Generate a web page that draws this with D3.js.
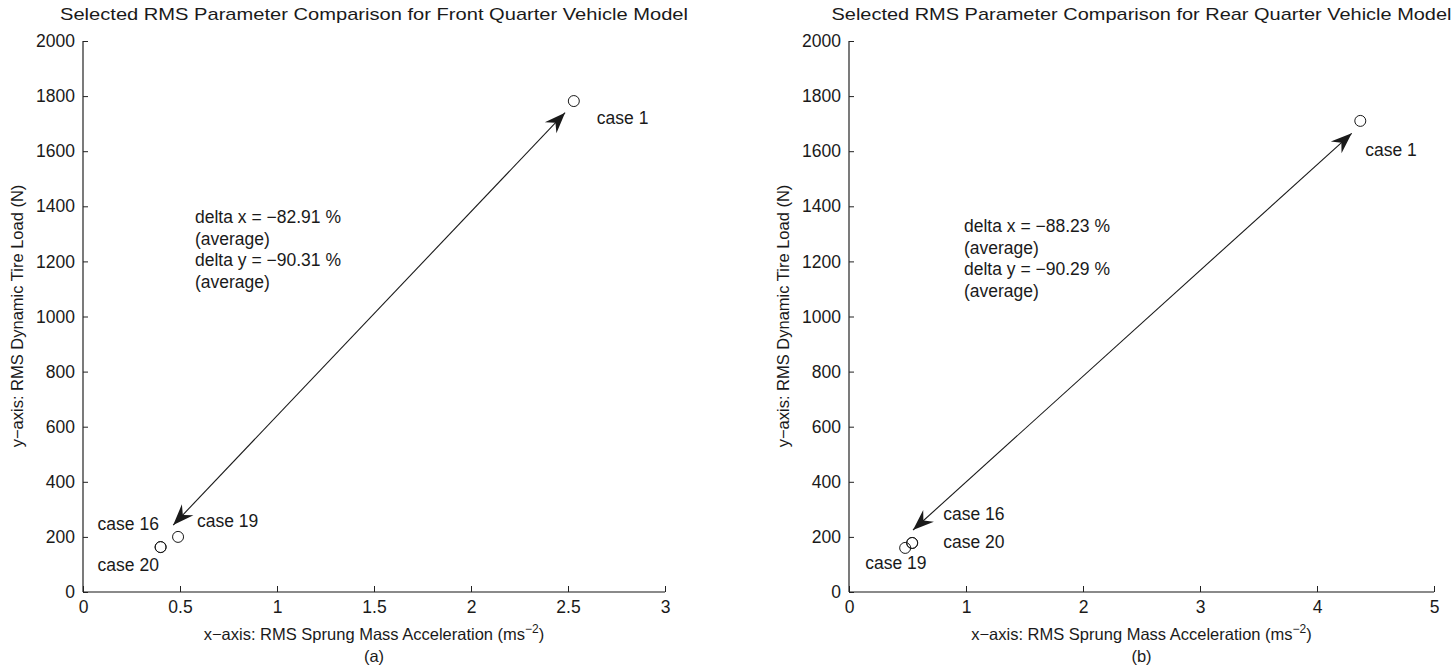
<!DOCTYPE html>
<html>
<head>
<meta charset="utf-8">
<script src="https://cdn.jsdelivr.net/npm/d3@7"></script>
<style>
  html, body { margin: 0; padding: 0; background: #fff; }
  svg { display: block; }
  text { font-family: "Liberation Sans", Arial, sans-serif; fill: #1a1a1a; }
</style>
</head>
<body>
<svg id="chart" width="1451" height="669"></svg>
<script>
// ---- data ----
const frontTitle = "Selected RMS Parameter Comparison for Front Quarter Vehicle Model";
const rearTitle = "Selected RMS Parameter Comparison for Rear Quarter Vehicle Model";

const frontCases = ["case 1", "case 19", "case 16", "case 20"];
const frontX = [2.53, 0.49, 0.40, 0.40];
const frontY = [1782, 200, 163, 163];

const rearCases = ["case 1", "case 16", "case 20", "case 19"];
const rearX = [4.37, 0.54, 0.54, 0.48];
const rearY = [1710, 178, 178, 160];

const frontXTicks = [0, 0.5, 1, 1.5, 2, 2.5, 3];
const rearXTicks = [0, 1, 2, 3, 4, 5];
const yTicks = [0, 200, 400, 600, 800, 1000, 1200, 1400, 1600, 1800, 2000];

// arrow end points (data units): [x1, y1, x2, y2]
const frontArrow = [2.485, 1740, 0.465, 243];
const rearArrow = [4.297, 1665, 0.547, 225];

const frontNote = ["delta x = \u221282.91 %", "(average)", "delta y = \u221290.31 %", "(average)"];
const rearNote = ["delta x = \u221288.23 %", "(average)", "delta y = \u221290.29 %", "(average)"];

// label placement offsets in pixels relative to the marker [dx, dy]
const frontLabelOffsets = [[23, 23], [19, -10], [-63, -17], [-63, 24]];
const rearLabelOffsets = [[5, 35], [31, -23], [31, 5], [-40, 21]];

const svg = d3.select("#chart");
const FS = 17.5;

function panel(opts) {
  const g = svg.append("g");
  const x = d3.scaleLinear().domain(opts.xDomain).range([opts.left, opts.right]);
  const y = d3.scaleLinear().domain([0, 2000]).range([592, 41]);

  // x axis (gray baseline, inward black ticks)
  const xa = g.append("g").attr("transform", "translate(0,592)")
    .call(d3.axisBottom(x).tickValues(opts.xTicks).tickSize(-6).tickPadding(9)
      .tickFormat(d => String(d)));
  xa.select(".domain").attr("stroke", "#8a8a8a").attr("stroke-width", 2).attr("d", `M${opts.left},0H${opts.right}`);
  xa.selectAll(".tick line").attr("stroke", "#222");
  xa.selectAll(".tick text").attr("font-size", FS).attr("dy", "0.71em").attr("fill", "#1a1a1a")
    .attr("font-family", "Liberation Sans, Arial, sans-serif");

  // y axis
  const ya = g.append("g").attr("transform", `translate(${opts.left},0)`)
    .call(d3.axisLeft(y).tickValues(yTicks).tickSize(-5).tickPadding(8).tickFormat(d => String(d)));
  ya.select(".domain").attr("stroke", "#222").attr("stroke-width", 1.2).attr("d", "M0,592V41");
  ya.selectAll(".tick line").attr("stroke", "#222");
  ya.selectAll(".tick text").attr("font-size", FS).attr("fill", "#1a1a1a")
    .attr("font-family", "Liberation Sans, Arial, sans-serif");

  // title
  const cx = (opts.left + opts.right) / 2;
  g.append("text").attr("x", cx).attr("y", 20).attr("text-anchor", "middle")
    .attr("font-size", 17).attr("textLength", opts.titleLen).attr("lengthAdjust", "spacingAndGlyphs")
    .text(opts.title);

  // axis labels
  const xl = g.append("text").attr("x", cx).attr("y", 640).attr("text-anchor", "middle").attr("font-size", 16.5);
  xl.append("tspan").text("x\u2212axis: RMS Sprung Mass Acceleration (ms");
  xl.append("tspan").attr("dy", -7).attr("font-size", 12).text("\u22122");
  xl.append("tspan").attr("dy", 7).text(")");
  g.append("text").attr("x", cx).attr("y", 662).attr("text-anchor", "middle").attr("font-size", 16.5).text(opts.sub);

  g.append("text").attr("transform", `translate(${opts.left - 60},316) rotate(-90)`)
    .attr("text-anchor", "middle").attr("font-size", 16.5)
    .text("y\u2212axis: RMS Dynamic Tire Load (N)");

  // double-headed arrow
  const a = opts.arrow;
  const p1 = [x(a[0]), y(a[1])], p2 = [x(a[2]), y(a[3])];
  g.append("line").attr("x1", p1[0]).attr("y1", p1[1]).attr("x2", p2[0]).attr("y2", p2[1])
    .attr("stroke", "#1a1a1a").attr("stroke-width", 1.1);
  function head(tip, from) {
    const ang = Math.atan2(from[1] - tip[1], from[0] - tip[0]);
    const L = 21, W = 8, notch = 14;
    const pt = (d, off) => [tip[0] + d * Math.cos(ang) - off * Math.sin(ang),
                            tip[1] + d * Math.sin(ang) + off * Math.cos(ang)];
    const pts = [tip, pt(L, W), pt(notch, 0), pt(L, -W)];
    g.append("path").attr("d", "M" + pts.map(p => p.join(",")).join("L") + "Z").attr("fill", "#1a1a1a");
  }
  head(p1, p2);
  head(p2, p1);

  // markers and labels
  opts.xs.forEach((v, i) => {
    g.append("circle").attr("cx", x(v)).attr("cy", y(opts.ys[i])).attr("r", 5.5)
      .attr("fill", "none").attr("stroke", "#1a1a1a").attr("stroke-width", 1);
    const off = opts.offsets[i];
    g.append("text").attr("x", x(v) + off[0]).attr("y", y(opts.ys[i]) + off[1])
      .attr("font-size", FS).text(opts.cases[i]);
  });

  // annotation
  const note = g.append("text").attr("font-size", FS);
  opts.note.forEach((t, i) => {
    note.append("tspan").attr("x", opts.notePos[0]).attr("y", opts.notePos[1] + i * 21.5).text(t);
  });
}

panel({
  left: 83, right: 665, xDomain: [0, 3], xTicks: frontXTicks,
  title: frontTitle, titleLen: 628, sub: "(a)",
  xs: frontX, ys: frontY, cases: frontCases, offsets: frontLabelOffsets,
  arrow: frontArrow, note: frontNote, notePos: [195, 223]
});

panel({
  left: 849, right: 1434, xDomain: [0, 5], xTicks: rearXTicks,
  title: rearTitle, titleLen: 620, sub: "(b)",
  xs: rearX, ys: rearY, cases: rearCases, offsets: rearLabelOffsets,
  arrow: rearArrow, note: rearNote, notePos: [964, 232]
});
</script>
</body>
</html>
